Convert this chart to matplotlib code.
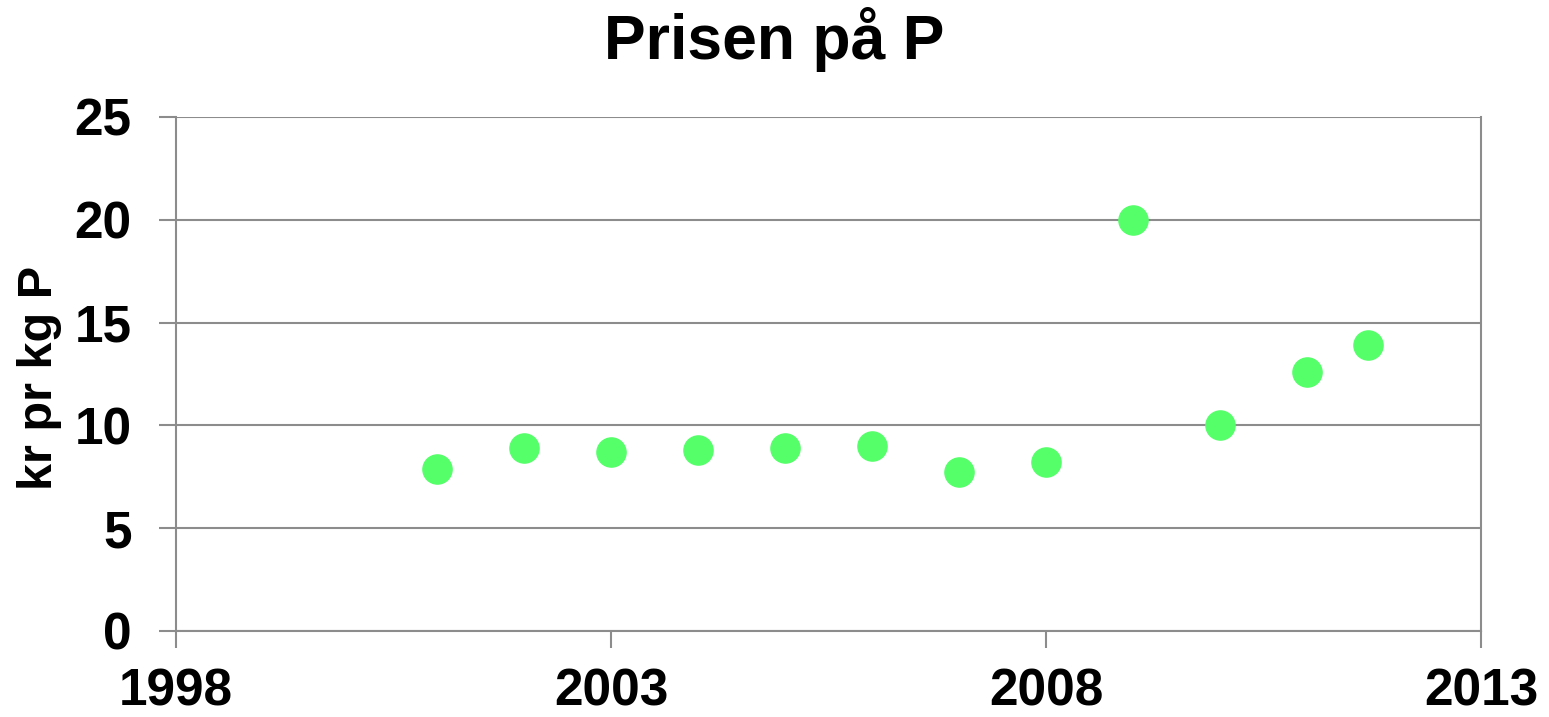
import matplotlib
matplotlib.use("Agg")
import matplotlib.pyplot as plt

years = [2001, 2002, 2003, 2004, 2005, 2006, 2007, 2008, 2009, 2010, 2011, 2011.7]
prices = [7.9, 8.9, 8.7, 8.8, 8.9, 9.0, 7.75, 8.2, 20.0, 10.0, 12.6, 13.9]
xticks = [1998, 2003, 2008, 2013]
yticks = [0, 5, 10, 15, 20, 25]

plt.rcParams['font.family'] = ['Liberation Sans', 'DejaVu Sans']
plt.rcParams['font.weight'] = 'bold'

fig = plt.figure(figsize=(15.49, 7.17), dpi=100)
ax = fig.add_axes([176/1549, 1 - 631/717, (1481-176)/1549, (631-117)/717])

gc = '#8c8c8c'
ax.set_xlim(1998, 2013)
ax.set_ylim(0, 25)
ax.set_xticks(xticks)
ax.set_yticks(yticks)
ax.grid(axis='y', color=gc, linewidth=1.5)
ax.set_axisbelow(True)
for s in ['left', 'bottom', 'right']:
    ax.spines[s].set_color(gc)
    ax.spines[s].set_linewidth(1.5)
ax.spines['top'].set_visible(False)
ax.tick_params(axis='both', color=gc, width=1.5, length=12, labelsize=37)
ax.tick_params(axis='y', pad=20)
ax.tick_params(axis='x', pad=14)
for lab in ax.get_xticklabels() + ax.get_yticklabels():
    lab.set_fontweight('bold')

ax.plot(years, prices, linestyle='none', marker='o', markersize=21,
        markerfacecolor='#55ff6a', markeredgecolor='#55ff6a', clip_on=False, zorder=3)

fig.text(40/1549, 1 - 378/717, 'kr pr kg P', rotation=90, ha='center', va='center',
         fontsize=35, fontweight='bold')
fig.text(0.5, 1 - 40/717, 'Prisen på P', ha='center', va='center', fontsize=45, fontweight='bold')

fig.savefig('out.png', dpi=100)
